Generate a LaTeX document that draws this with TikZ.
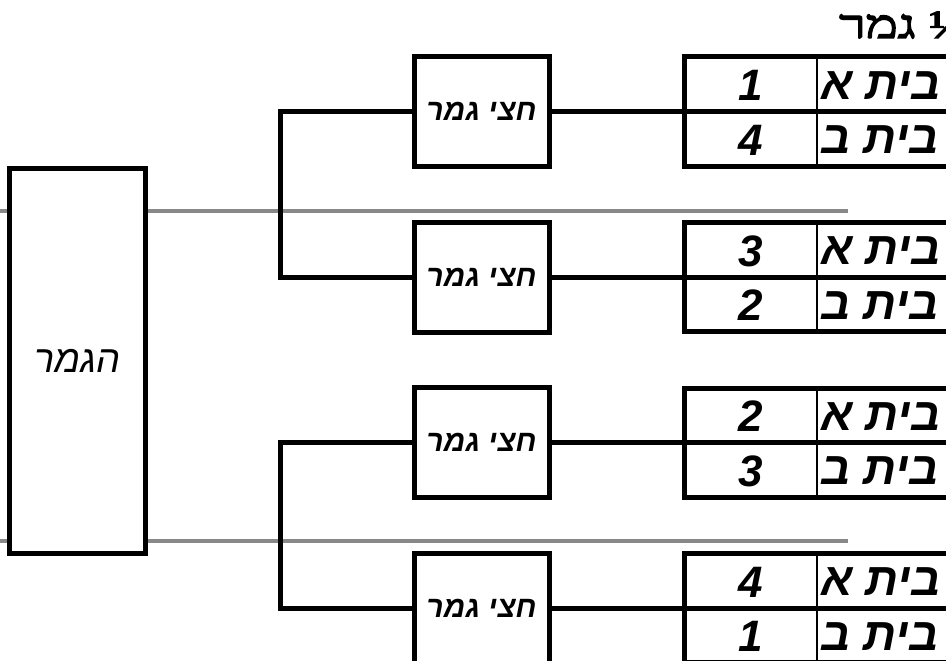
\documentclass[tikz,border=0pt]{standalone}
\usepackage{fontspec}
\TeXXeTstate=1
\newfontfamily\hebsans[Script=Hebrew]{Liberation Sans}
\newfontfamily\hebserif[Script=Hebrew, FakeBold=3]{Liberation Serif}
\definecolor{sepgray}{RGB}{136,136,136}
\tikzset{
  thickline/.style={line width=5pt, line join=miter, line cap=rect},
  sepline/.style={line width=4pt, draw=sepgray},
  finalbox/.style={draw, thickline, fill=white, minimum width=135.5pt, minimum height=385pt, inner sep=0pt,
    font=\hebsans\itshape\fontsize{38}{44}\selectfont},
  semibox/.style={draw, thickline, fill=white, minimum width=135pt, minimum height=110pt, inner sep=0pt,
    font=\hebsans\bfseries\itshape\fontsize{30}{34}\selectfont},
  grp/.style={draw, thickline, minimum width=306pt, minimum height=109pt, inner sep=0pt},
  numtext/.style={inner sep=0pt, font=\hebsans\bfseries\itshape\fontsize{44}{50}\selectfont},
  teamtext/.style={inner sep=0pt, anchor=west, font=\hebsans\bfseries\itshape\fontsize{46}{52}\selectfont},
  titletext/.style={inner sep=0pt, anchor=base west, xscale=1.35, transform shape,
    font=\hebserif\fontsize{40}{46}\selectfont},
  conn/.style={thickline},
  divider/.style={line width=2pt}
}
\begin{document}
\begin{tikzpicture}[x=1pt,y=-1pt]
\useasboundingbox (0,0) rectangle (946,661);
\clip (0,0) rectangle (946,661);
% grey separators
\coordinate (gA0) at (0,211);
\coordinate (gA1) at (848,211);
\coordinate (gB0) at (0,541);
\coordinate (gB1) at (848,541);
\draw[sepline] (gA0) -- (gA1);
\draw[sepline] (gB0) -- (gB1);
% final box
\node[finalbox] (final) at (77.5,360.5) {\beginR הגמר\endR};
% title
\node[titletext] (title) at (839,38) {\beginR ¼ גמר\endR};
% groups
\foreach \i/\T/\na/\nb in {1/57/1/4, 2/222.5/3/2, 3/388/2/3, 4/553.5/4/1}{
  \node[grp] (g\i) at (837,\T+54.5) {};
  \coordinate (d\i a) at (817,\T);
  \coordinate (d\i b) at (817,\T+109);
  \draw[divider] (d\i a) -- (d\i b);
  \draw[thickline] (g\i.west) -- (g\i.east);
  \node[numtext] (n\i a) at (750.5,\T+28.5) {\na};
  \node[numtext] (n\i b) at (750.5,\T+83) {\nb};
  \node[teamtext] (t\i a) at (821,\T+28.5) {\beginR בית א\endR};
  \node[teamtext] (t\i b) at (821,\T+83) {\beginR בית ב\endR};
  \node[semibox] (s\i) at (481.5,\T+54.5) {\beginR חצי גמר\endR};
  \draw[conn] (s\i.east) -- (g\i.west);
}
% brackets
\coordinate (br1) at (280,195);
\coordinate (br2) at (280,525);
\draw[conn] (s1.west) -| (br1) |- (s2.west);
\draw[conn] (s3.west) -| (br2) |- (s4.west);
\end{tikzpicture}
\end{document}
